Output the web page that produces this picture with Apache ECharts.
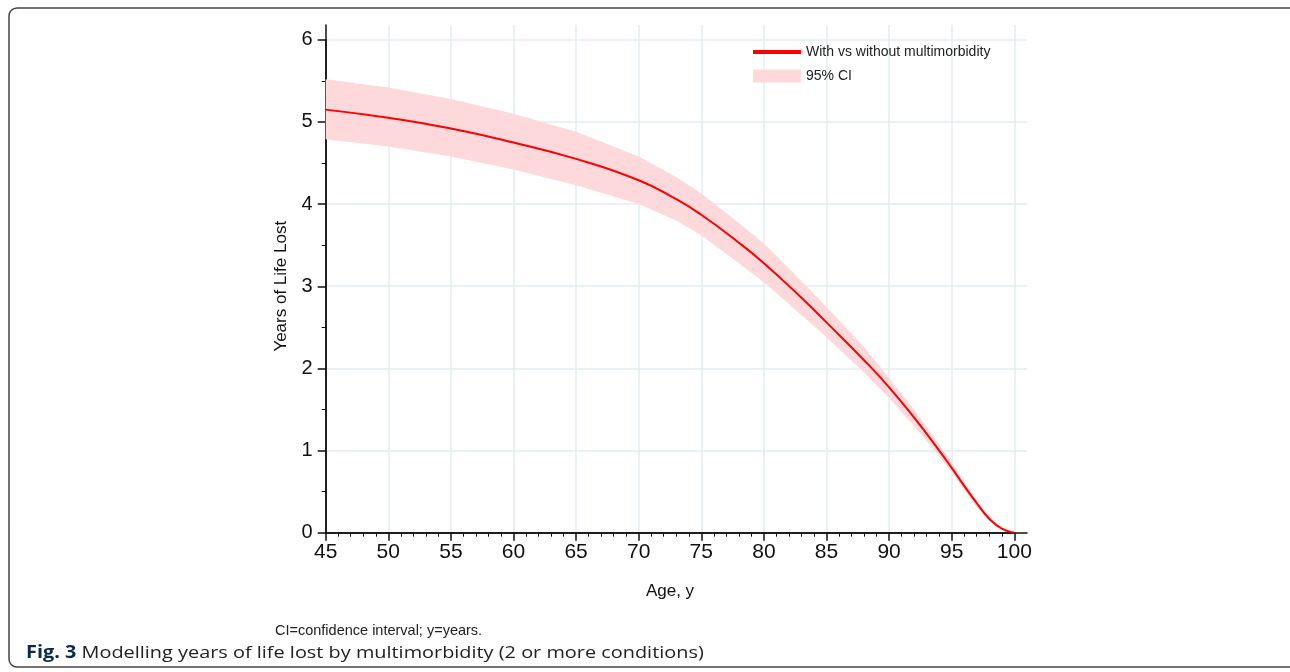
<!DOCTYPE html>
<html>
<head>
<meta charset="utf-8">
<script src="https://cdn.jsdelivr.net/npm/echarts@6/dist/echarts.min.js"></script>
<style>
  html, body { margin: 0; padding: 0; background: #fff; }
  #chart { width: 1290px; height: 672px; }
</style>
</head>
<body>
<div id="chart"></div>
<script>
// ages and estimated years of life lost
var ages    = [45, 50, 55, 60, 65, 70, 73, 75, 78, 80, 83, 85, 88, 90, 92, 94, 95, 96, 97, 98, 99, 100];
var yll     = [5.15, 5.05, 4.92, 4.75, 4.55, 4.29, 4.06, 3.87, 3.53, 3.28, 2.86, 2.56, 2.10, 1.77, 1.40, 1.00, 0.79, 0.57, 0.36, 0.17, 0.05, 0.00];
var ciUpper = [5.52, 5.42, 5.28, 5.10, 4.88, 4.58, 4.33, 4.13, 3.77, 3.52, 3.06, 2.75, 2.26, 1.88, 1.50, 1.07, 0.85, 0.62, 0.39, 0.19, 0.06, 0.00];
var ciLower = [4.79, 4.70, 4.58, 4.42, 4.23, 4.00, 3.80, 3.62, 3.28, 3.05, 2.65, 2.38, 1.95, 1.64, 1.30, 0.93, 0.73, 0.52, 0.31, 0.15, 0.04, 0.00];

var lineName = 'With vs without multimorbidity';
var ciName = '95% CI';

var font = 'Liberation Sans, Arial, sans-serif';
var gridColor = '#e2ecf0';
var bandColor = '#fdd9db';

var pairs = function (xs, ys) {
    var out = [];
    for (var i = 0; i < xs.length; i++) {
        out.push([xs[i], ys[i]]);
    }
    return out;
};

var bandData = [];
for (var i = 0; i < ages.length; i++) {
    bandData.push([ages[i], ciLower[i], ciUpper[i]]);
}

// the whole band is one polygon, drawn on the first data item
var renderBand = function (params, api) {
    if (params.dataIndex !== 0) {
        return;
    }
    var top = [], bottom = [];
    for (var i = 0; i < bandData.length; i++) {
        top.push(api.coord([bandData[i][0], bandData[i][2]]));
        bottom.unshift(api.coord([bandData[i][0], bandData[i][1]]));
    }
    return {
        type: 'polygon',
        shape: { points: top.concat(bottom) },
        style: { fill: bandColor, stroke: null },
        silent: true
    };
};

var chart = echarts.init(document.getElementById('chart'));
var option = {
    animation: false,
    backgroundColor: '#fff',
    legend: [{
        left: 753,
        top: 45,
        padding: 0,
        itemWidth: 48,
        itemHeight: 4,
        selectedMode: false,
        textStyle: { fontFamily: font, fontSize: 14, color: '#222' },
        data: [{ name: lineName, icon: 'rect', itemStyle: { color: '#ff0000' } }]
    }, {
        left: 753,
        top: 69,
        padding: 0,
        itemWidth: 48,
        itemHeight: 13,
        selectedMode: false,
        textStyle: { fontFamily: font, fontSize: 14, color: '#222' },
        data: [{ name: ciName, icon: 'rect', itemStyle: { color: bandColor } }]
    }],
    grid: [
        // outer grid: axis lines run a bit past the last tick, plus grid lines
        { left: 325.7, right: 263, top: 25, bottom: 139.3 },
        // inner grid: data, ticks and labels
        { left: 325.7, right: 275.7, top: 39.8, bottom: 139.3 }
    ],
    xAxis: [{
        gridIndex: 0,
        type: 'value',
        min: 45,
        max: 101,
        interval: 5,
        axisLine: { lineStyle: { color: '#111', width: 1.5 } },
        axisTick: { show: false },
        axisLabel: { show: false },
        splitLine: {
            show: true,
            showMinLine: false,
            showMaxLine: false,
            lineStyle: { color: gridColor, width: 1.5 }
        }
    }, {
        gridIndex: 1,
        type: 'value',
        min: 45,
        max: 100,
        interval: 5,
        name: 'Age, y',
        nameLocation: 'middle',
        nameGap: 50,
        nameTextStyle: { fontFamily: font, fontSize: 17, color: '#111' },
        axisLine: { lineStyle: { color: '#111', width: 1.5 } },
        axisTick: { length: 8, lineStyle: { color: '#111', width: 1.5 } },
        minorTick: { show: true, splitNumber: 5, length: 4, lineStyle: { color: '#111', width: 1 } },
        axisLabel: { fontFamily: font, fontSize: 21, color: '#111', margin: 9 },
        splitLine: { show: false }
    }],
    yAxis: [{
        gridIndex: 0,
        type: 'value',
        min: 0,
        max: 6.18,
        interval: 1,
        axisLine: { show: true, lineStyle: { color: '#111', width: 1.5 } },
        axisTick: { show: false },
        axisLabel: { show: false },
        splitLine: {
            show: true,
            showMinLine: false,
            showMaxLine: false,
            lineStyle: { color: gridColor, width: 1.5 }
        }
    }, {
        gridIndex: 1,
        type: 'value',
        min: 0,
        max: 6,
        interval: 1,
        name: 'Years of Life Lost',
        nameLocation: 'middle',
        nameGap: 36,
        nameTextStyle: { fontFamily: font, fontSize: 17, color: '#111' },
        axisLine: { show: true, lineStyle: { color: '#111', width: 1.5 } },
        axisTick: { length: 8, lineStyle: { color: '#111', width: 1.5 } },
        minorTick: { show: true, splitNumber: 2, length: 4, lineStyle: { color: '#111', width: 1 } },
        axisLabel: { fontFamily: font, fontSize: 20, color: '#111', margin: 13 },
        splitLine: { show: false }
    }],
    series: [{
        name: ciName,
        type: 'custom',
        xAxisIndex: 1,
        yAxisIndex: 1,
        itemStyle: { color: bandColor },
        renderItem: renderBand,
        encode: { x: 0, y: [1, 2] },
        data: bandData,
        z: 2
    }, {
        name: lineName,
        type: 'line',
        xAxisIndex: 1,
        yAxisIndex: 1,
        smooth: 0.5,
        symbol: 'none',
        itemStyle: { color: '#ff0000' },
        lineStyle: { color: '#ff0000', width: 2 },
        data: pairs(ages, yll),
        z: 5
    }],
    graphic: [{
        type: 'rect',
        shape: { x: 9, y: 8, width: 1292, height: 659, r: 8 },
        style: { fill: 'none', stroke: '#444', lineWidth: 1.5 },
        silent: true
    }, {
        type: 'text',
        left: 275,
        top: 623,
        style: {
            text: 'CI=confidence interval; y=years.',
            fontFamily: font,
            fontSize: 14.5,
            fill: '#222'
        }
    }, {
        type: 'text',
        x: 26,
        y: 645,
        scaleX: 1.17,
        style: {
            text: '{b|Fig. 3} Modelling years of life lost by multimorbidity (2 or more conditions)',
            fontFamily: 'Open Sans, Noto Sans, sans-serif',
            fontSize: 17,
            fill: '#222',
            rich: {
                b: { fontFamily: 'Open Sans, Noto Sans, sans-serif', fontSize: 17, fontWeight: 'bold', fill: '#0a2a4a' }
            }
        }
    }]
};
chart.setOption(option);
</script>
</body>
</html>
